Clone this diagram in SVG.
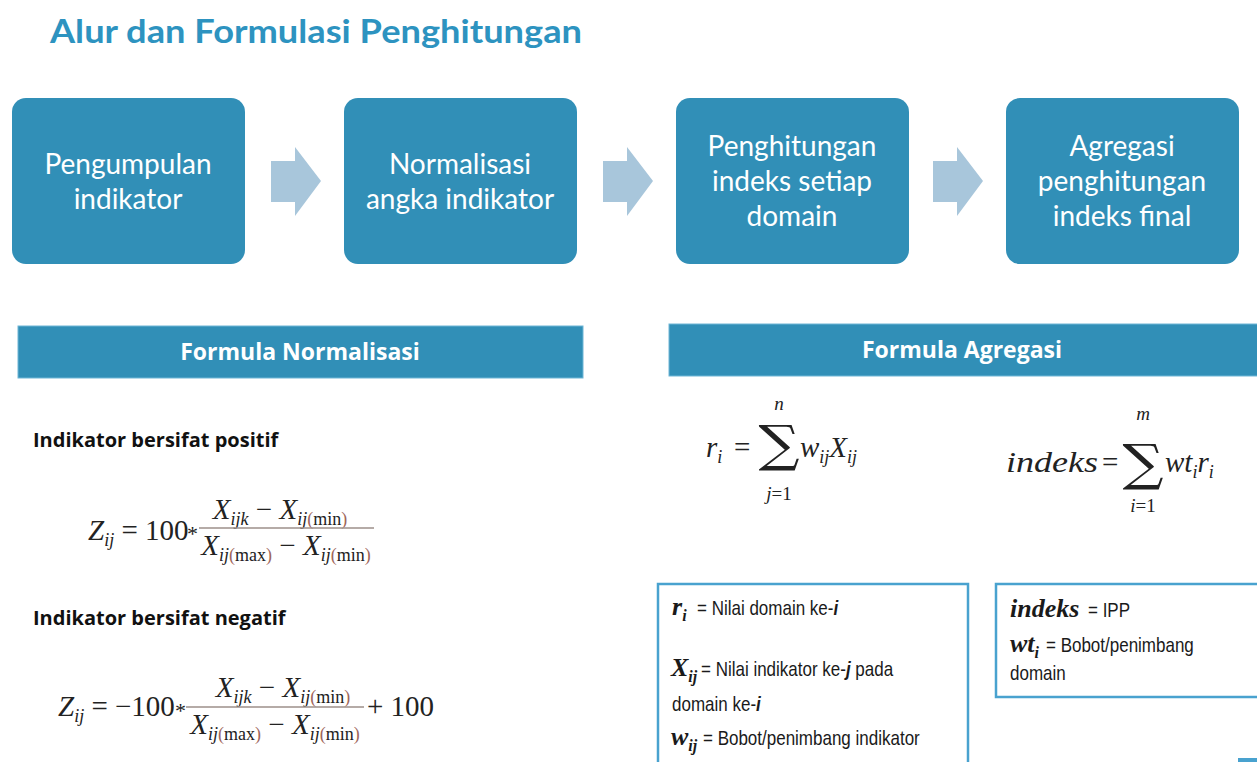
<svg xmlns="http://www.w3.org/2000/svg" width="1257" height="762" viewBox="0 0 1257 762">
<style>
.title{font-family:Lato,"Open Sans",sans-serif;font-weight:700;font-size:33px;fill:#2d93c0}
.box{fill:#318fb7}
.bt{font-family:Lato,"Open Sans",sans-serif;font-size:28px;fill:#ffffff;text-anchor:middle}
.arr{fill:#a8c6db}
.hbar{fill:#318fb7;stroke:#6fb6d6;stroke-width:1}
.ht{font-family:"Open Sans",Lato,sans-serif;font-weight:700;font-size:23px;fill:#ffffff;text-anchor:middle}
.sec{font-family:"Open Sans",Lato,sans-serif;font-weight:700;font-size:20px;fill:#111111}
.m{font-family:"Liberation Serif",serif;font-style:italic;font-size:29px;fill:#222222}
.mc{text-anchor:middle}
.up{font-style:normal}
.sub{font-size:18px}
.par{fill:#a0665a;font-style:normal}
.fb{stroke:#9c8f8a;stroke-width:1.5}
.ast{font-family:"Liberation Serif",serif;font-size:22px;fill:#222222}
.sig{font-family:"DejaVu Serif","Liberation Serif",serif;font-style:normal;font-size:50px;fill:#222222;text-anchor:middle}
.lim{font-family:"Liberation Serif",serif;font-style:italic;font-size:19px;fill:#222222;text-anchor:middle}
.def{fill:#ffffff;stroke:#49a2cf;stroke-width:2.5}
.dt{font-family:"Liberation Sans",Arial,sans-serif;font-size:20px;fill:#1a1a1a}
.dv{font-family:"Liberation Serif",serif;font-style:italic;font-weight:700;font-size:26px;fill:#1a1a1a}
.dvs{font-family:"Liberation Serif",serif;font-style:italic;font-weight:700;font-size:16px}
</style>
<rect width="1257" height="762" fill="#ffffff"/>
<text class="title" x="50" y="43" textLength="532" lengthAdjust="spacingAndGlyphs">Alur dan Formulasi Penghitungan</text>

<g id="step1"><rect class="box" x="12" y="98" width="233" height="166" rx="14"/>
<text class="bt" x="128" y="174">Pengumpulan</text><text class="bt" x="128" y="209">indikator</text></g>
<g id="step2"><rect class="box" x="344" y="98" width="233" height="166" rx="14"/>
<text class="bt" x="460" y="174">Normalisasi</text><text class="bt" x="460" y="209">angka indikator</text></g>
<g id="step3"><rect class="box" x="676" y="98" width="233" height="166" rx="14"/>
<text class="bt" x="792" y="156">Penghitungan</text><text class="bt" x="792" y="191">indeks setiap</text><text class="bt" x="792" y="226">domain</text></g>
<g id="step4"><rect class="box" x="1006" y="98" width="233" height="166" rx="14"/>
<text class="bt" x="1122" y="156">Agregasi</text><text class="bt" x="1122" y="191">penghitungan</text><text class="bt" x="1122" y="226">indeks final</text></g>

<g id="connectors">
<path class="arr" d="M271 161H295V147L321 181L295 216V202H271Z"/>
<path class="arr" d="M603 161H627V147L653 181L627 216V202H603Z"/>
<path class="arr" d="M933 161H957V147L983 181L957 216V202H933Z"/>
</g>

<g id="normalisasi">
<rect class="hbar" x="18" y="326" width="565" height="52"/>
<text class="ht" x="300" y="360">Formula Normalisasi</text>
<text class="sec" x="33" y="447">Indikator bersifat positif</text>
<text class="m" x="88" y="540">Z<tspan class="sub" dy="6">ij</tspan><tspan class="up" dy="-6"> = 100</tspan></text>
<text class="ast" x="187" y="541">*</text>
<text class="m mc" x="280" y="519">X<tspan class="sub" dy="6">ijk</tspan><tspan class="up" dy="-6"> − </tspan>X<tspan class="sub" dy="6">ij</tspan><tspan class="sub par">(</tspan><tspan class="sub up">min</tspan><tspan class="sub par">)</tspan></text>
<line class="fb" x1="199" y1="528" x2="374" y2="528"/>
<text class="m mc" x="286" y="555">X<tspan class="sub" dy="6">ij</tspan><tspan class="sub par">(</tspan><tspan class="sub up">max</tspan><tspan class="sub par">)</tspan><tspan class="up" dy="-6"> − </tspan>X<tspan class="sub" dy="6">ij</tspan><tspan class="sub par">(</tspan><tspan class="sub up">min</tspan><tspan class="sub par">)</tspan></text>

<text class="sec" x="33" y="625">Indikator bersifat negatif</text>
<text class="m" x="58" y="716">Z<tspan class="sub" dy="6">ij</tspan><tspan class="up" dy="-6"> = −100</tspan></text>
<text class="ast" x="175" y="718">*</text>
<text class="m mc" x="283" y="697">X<tspan class="sub" dy="6">ijk</tspan><tspan class="up" dy="-6"> − </tspan>X<tspan class="sub" dy="6">ij</tspan><tspan class="sub par">(</tspan><tspan class="sub up">min</tspan><tspan class="sub par">)</tspan></text>
<line class="fb" x1="186" y1="707" x2="364" y2="707"/>
<text class="m mc" x="275" y="734">X<tspan class="sub" dy="6">ij</tspan><tspan class="sub par">(</tspan><tspan class="sub up">max</tspan><tspan class="sub par">)</tspan><tspan class="up" dy="-6"> − </tspan>X<tspan class="sub" dy="6">ij</tspan><tspan class="sub par">(</tspan><tspan class="sub up">min</tspan><tspan class="sub par">)</tspan></text>
<text class="m" x="367" y="716"><tspan class="up">+ 100</tspan></text>
</g>

<g id="agregasi">
<rect class="hbar" x="669" y="324" width="590" height="52"/>
<text class="ht" x="962" y="358">Formula Agregasi</text>
<text class="m" x="706" y="457">r<tspan class="sub" dy="6">i</tspan></text>
<text class="m" x="734" y="457"><tspan class="up">=</tspan></text>
<text class="sig" transform="translate(779,461) scale(1.15,1)">∑</text>
<text class="lim" x="779" y="410">n</text>
<text class="lim" x="779" y="500">j<tspan class="up">=1</tspan></text>
<text class="m" x="800" y="457">w<tspan class="sub" dy="6">ij</tspan><tspan dy="-6">X</tspan><tspan class="sub" dy="6">ij</tspan></text>

<text class="m" x="1006" y="472" textLength="92" lengthAdjust="spacingAndGlyphs">indeks</text>
<text class="m" x="1102" y="472"><tspan class="up">=</tspan></text>
<text class="sig" transform="translate(1143,480) scale(1.15,1)">∑</text>
<text class="lim" x="1143" y="420">m</text>
<text class="lim" x="1143" y="512">i<tspan class="up">=1</tspan></text>
<text class="m" x="1165" y="472">wt<tspan class="sub" dy="6">i</tspan><tspan dy="-6">r</tspan><tspan class="sub" dy="6">i</tspan></text>
</g>

<g id="def-domain">
<rect class="def" x="658" y="584" width="310" height="190"/>
<text class="dv" x="672" y="615">r<tspan class="dvs" dy="6">i</tspan></text>
<text class="dt" transform="translate(697,615) scale(0.85,1)">= Nilai domain ke-<tspan font-weight="700" font-style="italic">i</tspan></text>
<text class="dv" x="671" y="676">X<tspan class="dvs" dy="6">ij</tspan></text>
<text class="dt" transform="translate(701,676) scale(0.85,1)">= Nilai indikator ke-<tspan font-weight="700" font-style="italic">j</tspan> pada</text>
<text class="dt" transform="translate(672,711) scale(0.85,1)">domain ke-<tspan font-weight="700" font-style="italic">i</tspan></text>
<text class="dv" x="671" y="745">w<tspan class="dvs" dy="6">ij</tspan></text>
<text class="dt" transform="translate(703,745) scale(0.85,1)">= Bobot/penimbang indikator</text>
</g>

<g id="def-indeks">
<rect class="def" x="996" y="584" width="265" height="113"/>
<text class="dv" x="1010" y="617">indeks</text>
<text class="dt" transform="translate(1088,617) scale(0.85,1)">= IPP</text>
<text class="dv" x="1010" y="652">wt<tspan class="dvs" dy="6">i</tspan></text>
<text class="dt" transform="translate(1046,652) scale(0.85,1)">= Bobot/penimbang</text>
<text class="dt" transform="translate(1010,680) scale(0.85,1)">domain</text>
</g>
<rect x="1238" y="758" width="19" height="4" fill="#49a2cf"/>
</svg>
